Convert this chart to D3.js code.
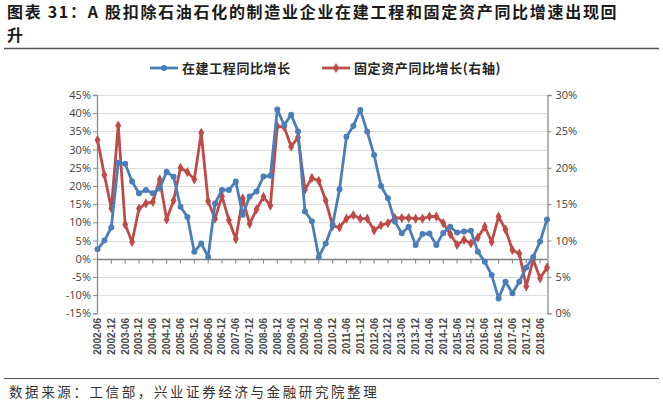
<!DOCTYPE html>
<html><head><meta charset="utf-8">
<script src="https://cdn.jsdelivr.net/npm/d3@7/dist/d3.min.js"></script>
<style>
body{margin:0;background:#fff;}
svg{display:block;}
</style></head>
<body>
<svg id="c" width="663" height="409"></svg>
<script>
const titleLines = ["图表 31：A 股扣除石油石化的制造业企业在建工程和固定资产同比增速出现回", "升"];
const sourceText = "数据来源：工信部，兴业证券经济与金融研究院整理";
const seriesNames = ["在建工程同比增长", "固定资产同比增长(右轴)"];
const categories = [
"2002-06","2002-09","2002-12","2003-03","2003-06","2003-09","2003-12","2004-03",
"2004-06","2004-09","2004-12","2005-03","2005-06","2005-09","2005-12","2006-03",
"2006-06","2006-09","2006-12","2007-03","2007-06","2007-09","2007-12","2008-03",
"2008-06","2008-09","2008-12","2009-03","2009-06","2009-09","2009-12","2010-03",
"2010-06","2010-09","2010-12","2011-03","2011-06","2011-09","2011-12","2012-03",
"2012-06","2012-09","2012-12","2013-03","2013-06","2013-09","2013-12","2014-03",
"2014-06","2014-09","2014-12","2015-03","2015-06","2015-09","2015-12","2016-03",
"2016-06","2016-09","2016-12","2017-03","2017-06","2017-09","2017-12","2018-03",
"2018-06","2018-09"];
// 在建工程同比增长 (left axis, %)
const cip = [
2.6,5.0,8.6,26.4,26.1,21.2,18.0,18.9,
18.0,19.3,23.9,22.5,14.3,11.5,1.9,4.2,
0.5,15.2,18.9,18.9,21.2,12.1,17.1,18.5,
22.6,22.8,41.0,36.7,39.6,35.0,13.0,10.3,
0.5,4.2,9.3,19.1,33.5,36.5,40.9,34.9,
28.5,20.0,16.6,10.2,7.0,8.8,3.8,6.8,
6.9,3.8,7.1,8.8,7.2,7.5,7.7,1.9,
-0.8,-4.5,-10.9,-6.3,-9.5,-6.3,-2.4,0.5,
4.7,10.8];
// 固定资产同比增长 (right axis, %)
const fixedAssets = [
23.8,19.0,14.4,25.8,12.2,9.8,14.4,15.1,
15.3,18.4,12.9,15.5,20.0,19.4,18.4,24.8,
15.4,13.0,16.1,12.8,10.2,15.8,12.3,14.3,
16.0,14.8,25.7,25.6,22.9,24.2,17.0,18.6,
18.2,15.5,12.0,11.8,13.0,13.5,13.0,13.0,
11.4,12.1,12.4,13.1,13.1,13.1,13.0,13.0,
13.3,13.3,12.4,10.9,9.4,10.1,9.6,10.4,
11.9,9.8,13.3,11.5,8.7,8.2,3.7,7.4,
4.8,6.3];
const leftTicks = [-15,-10,-5,0,5,10,15,20,25,30,35,40,45];
const rightTicks = [0,5,10,15,20,25,30];

const svg = d3.select("#c");
const blue = "#4A7EBB", red = "#BE4B48";
const x0 = 97.5, x1 = 547, yTop = 95, yBot = 313.3;

const x = d3.scaleLinear().domain([0, categories.length - 1]).range([x0, x1]);
const yL = d3.scaleLinear().domain([-15, 45]).range([yBot, yTop]);
const yR = d3.scaleLinear().domain([0, 30]).range([yBot, yTop]);

// Title
const tg = svg.append("g");
titleLines.forEach((t, i) => {
  tg.append("text").attr("x", 7).attr("y", 17.5 + i * 23.5)
    .attr("font-family", "'Noto Sans CJK SC', sans-serif").attr("font-weight", 700)
    .attr("font-size", 16).attr("letter-spacing", 1.7).attr("fill", "#1a1a1a").text(t);
});
svg.append("line").attr("x1", 4).attr("x2", 659).attr("y1", 48.5).attr("y2", 48.5)
  .attr("stroke", "#555").attr("stroke-width", 1.5);

// Gridlines
svg.append("g").selectAll("line").data(leftTicks.filter(d => d !== -15)).join("line")
  .attr("x1", x0).attr("x2", x1)
  .attr("y1", d => Math.round(yL(d)) + 0.5).attr("y2", d => Math.round(yL(d)) + 0.5)
  .attr("stroke", "#dcdcdc").attr("stroke-width", 1);

// Left axis
const la = svg.append("g").attr("transform", `translate(${x0 - 0.5},0)`)
  .call(d3.axisLeft(yL).tickValues(leftTicks).tickSize(4).tickFormat(d => d + "%"));
// Right axis
const ra = svg.append("g").attr("transform", `translate(${x1 + 0.5},0)`)
  .call(d3.axisRight(yR).tickValues(rightTicks).tickSize(4).tickFormat(d => d + "%"));
[la, ra].forEach(a => {
  a.select(".domain").attr("stroke", "#8c8c8c").attr("stroke-width", 1.3);
  a.selectAll(".tick line").attr("stroke", "#8c8c8c");
  a.selectAll(".tick text").attr("font-family", "'Open Sans', sans-serif")
    .attr("font-size", 11).attr("fill", "#404040");
});
la.selectAll(".tick text").attr("x", -6);
ra.selectAll(".tick text").attr("x", 8);

// Category axis at 0%
const labelIdx = categories.map((c, i) => i).filter(i => i % 2 === 0);
const xa = svg.append("g").attr("transform", `translate(0,${Math.round(yL(0)) + 0.5})`);
xa.append("line").attr("x1", x0).attr("x2", x1).attr("stroke", "#7f7f7f").attr("stroke-width", 1.3);
xa.selectAll("line.t").data(labelIdx).join("line").attr("class", "t")
  .attr("x1", d => x(d)).attr("x2", d => x(d)).attr("y1", 0).attr("y2", 4)
  .attr("stroke", "#7f7f7f");
svg.append("line").attr("x1", x0).attr("x2", x1).attr("y1", yBot).attr("y2", yBot)
  .attr("stroke", "#e6e6e6");
// Category labels (bottom, rotated)
svg.append("g").selectAll("text").data(labelIdx).join("text")
  .attr("transform", d => `translate(${x(d) + 3.5},318) rotate(-90)`)
  .attr("text-anchor", "end")
  .attr("font-family", "'Liberation Sans Narrow', 'Liberation Sans', sans-serif")
  .attr("font-weight", 700).attr("font-size", 10).attr("fill", "#4a4a4a")
  .text(d => categories[d]);

// Lines
const lineL = d3.line().x((d, i) => x(i)).y(d => yL(d));
const lineR = d3.line().x((d, i) => x(i)).y(d => yR(d));
svg.append("path").datum(fixedAssets).attr("d", lineR).attr("fill", "none")
  .attr("stroke", red).attr("stroke-width", 2.8).attr("stroke-linejoin", "round");
const diamond = d3.symbol().type(d3.symbolDiamond).size(30);
svg.append("g").selectAll("path").data(fixedAssets).join("path")
  .attr("d", diamond).attr("transform", (d, i) => `translate(${x(i)},${yR(d)})`)
  .attr("fill", red);

svg.append("path").datum(cip).attr("d", lineL).attr("fill", "none")
  .attr("stroke", blue).attr("stroke-width", 2.8).attr("stroke-linejoin", "round");
svg.append("g").selectAll("circle").data(cip).join("circle")
  .attr("cx", (d, i) => x(i)).attr("cy", d => yL(d)).attr("r", 3).attr("fill", blue);

// Legend
const lg = svg.append("g").attr("font-family", "'Noto Sans CJK SC', sans-serif")
  .attr("font-size", 13).attr("fill", "#262626");
lg.append("line").attr("x1", 150).attr("x2", 178).attr("y1", 68).attr("y2", 68)
  .attr("stroke", blue).attr("stroke-width", 2.8);
lg.append("circle").attr("cx", 164).attr("cy", 68).attr("r", 3).attr("fill", blue);
lg.append("text").attr("x", 182).attr("y", 72.5).attr("font-weight", 700)
  .attr("letter-spacing", 0.6).text(seriesNames[0]);
lg.append("line").attr("x1", 322).attr("x2", 350).attr("y1", 68).attr("y2", 68)
  .attr("stroke", red).attr("stroke-width", 2.8);
lg.append("path").attr("d", diamond).attr("transform", "translate(336,68)").attr("fill", red);
lg.append("text").attr("x", 354).attr("y", 72.5).attr("font-weight", 700)
  .attr("letter-spacing", 0.6).text(seriesNames[1]);

// Source
svg.append("line").attr("x1", 4).attr("x2", 659).attr("y1", 378.5).attr("y2", 378.5)
  .attr("stroke", "#555").attr("stroke-width", 1.2);
svg.append("text").attr("x", 9).attr("y", 397)
  .attr("font-family", "'Noto Sans CJK SC', sans-serif").attr("font-size", 13.5)
  .attr("letter-spacing", 2.6).attr("fill", "#333").text(sourceText);
</script>
</body></html>
